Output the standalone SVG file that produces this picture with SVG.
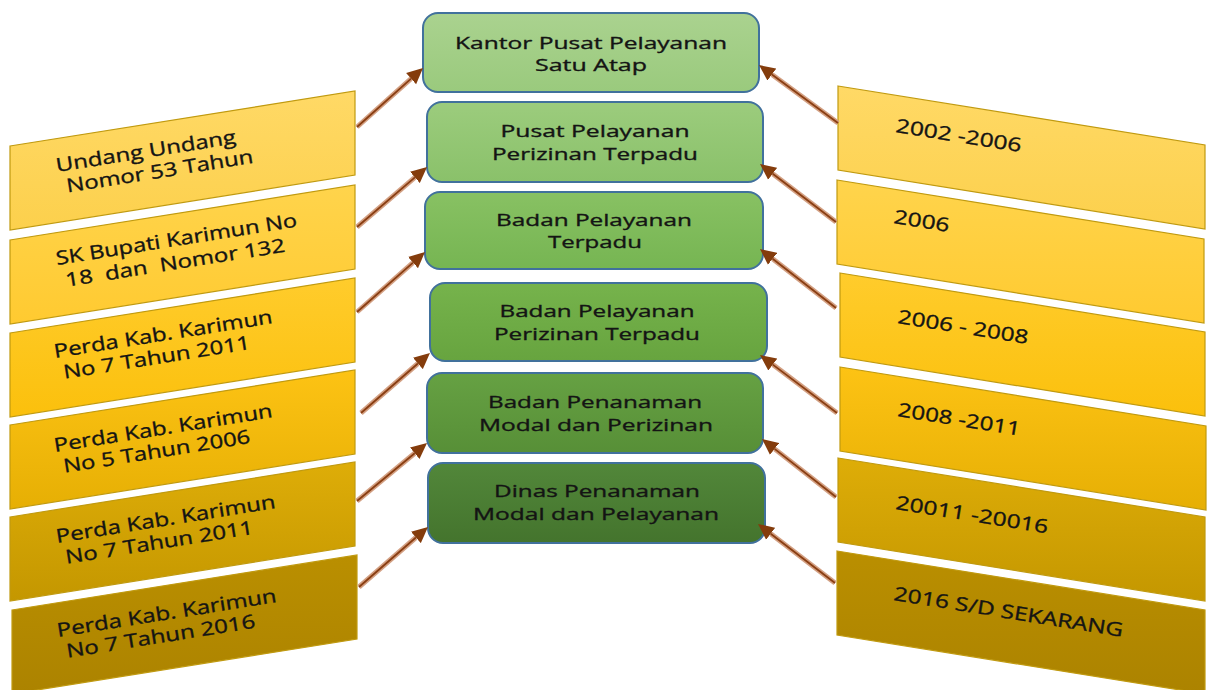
<svg xmlns="http://www.w3.org/2000/svg" width="1208" height="690" viewBox="0 0 1208 690">
<style>
.y{stroke:#C09A10;stroke-width:1.2}
.g{stroke:#41719C;stroke-width:2}
.t{font-family:"Open Sans","Liberation Sans",sans-serif;font-size:19px;fill:#141414;stroke:#141414;stroke-width:0.35}
.c{text-anchor:middle;font-size:17px}
.ao{fill:none;stroke:#D3A083;stroke-width:5}
.ai{fill:none;stroke:#8A3E12;stroke-width:1.8}
</style>
<defs>
<marker id="ah" markerUnits="userSpaceOnUse" markerWidth="17" markerHeight="16" viewBox="0 -8 17 16" refX="0" refY="0" orient="auto">
<path d="M0,-7.5 L16,0 L0,7.5 z" fill="#843C0C"/>
</marker>
<linearGradient id="y1" x1="0" y1="0" x2="0" y2="1"><stop offset="0" stop-color="#FFD966"/><stop offset="1" stop-color="#FCD04C"/></linearGradient>
<linearGradient id="y2" x1="0" y1="0" x2="0" y2="1"><stop offset="0" stop-color="#FFD44C"/><stop offset="1" stop-color="#FFCA30"/></linearGradient>
<linearGradient id="y3" x1="0" y1="0" x2="0" y2="1"><stop offset="0" stop-color="#FFCC2C"/><stop offset="1" stop-color="#FBC00C"/></linearGradient>
<linearGradient id="y4" x1="0" y1="0" x2="0" y2="1"><stop offset="0" stop-color="#FDC314"/><stop offset="1" stop-color="#E6AF04"/></linearGradient>
<linearGradient id="y5" x1="0" y1="0" x2="0" y2="1"><stop offset="0" stop-color="#DEAD08"/><stop offset="1" stop-color="#C49700"/></linearGradient>
<linearGradient id="y6" x1="0" y1="0" x2="0" y2="1"><stop offset="0" stop-color="#BA8F00"/><stop offset="1" stop-color="#AC8300"/></linearGradient>
<linearGradient id="g1" x1="0" y1="0" x2="0" y2="1"><stop offset="0" stop-color="#AAD28F"/><stop offset="1" stop-color="#9ACA7D"/></linearGradient>
<linearGradient id="g2" x1="0" y1="0" x2="0" y2="1"><stop offset="0" stop-color="#9CCC7D"/><stop offset="1" stop-color="#8AC16A"/></linearGradient>
<linearGradient id="g3" x1="0" y1="0" x2="0" y2="1"><stop offset="0" stop-color="#88C163"/><stop offset="1" stop-color="#76B552"/></linearGradient>
<linearGradient id="g4" x1="0" y1="0" x2="0" y2="1"><stop offset="0" stop-color="#76B34C"/><stop offset="1" stop-color="#67A43F"/></linearGradient>
<linearGradient id="g5" x1="0" y1="0" x2="0" y2="1"><stop offset="0" stop-color="#66A143"/><stop offset="1" stop-color="#578F37"/></linearGradient>
<linearGradient id="g6" x1="0" y1="0" x2="0" y2="1"><stop offset="0" stop-color="#52873A"/><stop offset="1" stop-color="#44742D"/></linearGradient>
</defs>
<rect width="1208" height="690" fill="#FFFFFF"/>

<!-- Left parallelograms -->
<g id="left1">
<polygon class="y" fill="url(#y1)" points="10,146 355,91 355,175 10,230"/>
<g transform="translate(57,172) rotate(-9.1)"><text class="t" x="0" y="0" textLength="182" lengthAdjust="spacingAndGlyphs">Undang Undang</text><text class="t" x="7" y="22" textLength="189" lengthAdjust="spacingAndGlyphs">Nomor 53 Tahun</text></g>
</g>
<g id="left2">
<polygon class="y" fill="url(#y2)" points="10,240 355,185 355,269 10,324"/>
<g transform="translate(57,265) rotate(-9.1)"><text class="t" x="0" y="0" textLength="244" lengthAdjust="spacingAndGlyphs">SK Bupati Karimun No</text><text class="t" x="6" y="23" textLength="222" lengthAdjust="spacingAndGlyphs" xml:space="preserve">18  dan  Nomor 132</text></g>
</g>
<g id="left3">
<polygon class="y" fill="url(#y3)" points="10,333 355,278 355,362 10,417"/>
<g transform="translate(55,358) rotate(-9.1)"><text class="t" x="0" y="0" textLength="221" lengthAdjust="spacingAndGlyphs">Perda Kab. Karimun</text><text class="t" x="6" y="22" textLength="189" lengthAdjust="spacingAndGlyphs">No 7 Tahun 2011</text></g>
</g>
<g id="left4">
<polygon class="y" fill="url(#y4)" points="10,425 355,370 355,454 10,509"/>
<g transform="translate(55,452) rotate(-9.1)"><text class="t" x="0" y="0" textLength="221" lengthAdjust="spacingAndGlyphs">Perda Kab. Karimun</text><text class="t" x="6" y="22" textLength="189" lengthAdjust="spacingAndGlyphs">No 5 Tahun 2006</text></g>
</g>
<g id="left5">
<polygon class="y" fill="url(#y5)" points="10,517 355,462 355,546 10,601"/>
<g transform="translate(57,543) rotate(-9.1)"><text class="t" x="0" y="0" textLength="222" lengthAdjust="spacingAndGlyphs">Perda Kab. Karimun</text><text class="t" x="6" y="22" textLength="190" lengthAdjust="spacingAndGlyphs">No 7 Tahun 2011</text></g>
</g>
<g id="left6">
<polygon class="y" fill="url(#y6)" points="12,610 357,555 357,639 12,694"/>
<g transform="translate(58,637) rotate(-9.1)"><text class="t" x="0" y="0" textLength="222" lengthAdjust="spacingAndGlyphs">Perda Kab. Karimun</text><text class="t" x="6" y="22" textLength="191" lengthAdjust="spacingAndGlyphs">No 7 Tahun 2016</text></g>
</g>

<!-- Right parallelograms -->
<g id="right1">
<polygon class="y" fill="url(#y1)" points="838,86 1205,145 1205,229 838,170"/>
<text class="t" transform="translate(895,132) rotate(9.1)" textLength="127" lengthAdjust="spacingAndGlyphs">2002 -2006</text>
</g>
<g id="right2">
<polygon class="y" fill="url(#y2)" points="837,180 1204,239 1204,323 837,264"/>
<text class="t" transform="translate(893,223) rotate(9.1)" textLength="56" lengthAdjust="spacingAndGlyphs">2006</text>
</g>
<g id="right3">
<polygon class="y" fill="url(#y3)" points="840,273 1205,332 1205,416 840,357"/>
<text class="t" transform="translate(897,323) rotate(9.1)" textLength="132" lengthAdjust="spacingAndGlyphs">2006 - 2008</text>
</g>
<g id="right4">
<polygon class="y" fill="url(#y4)" points="840,367 1206,426 1206,510 840,451"/>
<text class="t" transform="translate(897,416) rotate(9.1)" textLength="124" lengthAdjust="spacingAndGlyphs">2008 -2011</text>
</g>
<g id="right5">
<polygon class="y" fill="url(#y5)" points="838,458 1205,517 1205,601 838,542"/>
<text class="t" transform="translate(895,509) rotate(9.1)" textLength="154" lengthAdjust="spacingAndGlyphs">20011 -20016</text>
</g>
<g id="right6">
<polygon class="y" fill="url(#y6)" points="837,551 1205,610 1205,694 837,635"/>
<text class="t" transform="translate(893,600) rotate(9.1)" textLength="232" lengthAdjust="spacingAndGlyphs">2016 S/D SEKARANG</text>
</g>

<!-- Center boxes -->
<g id="center1">
<rect class="g" fill="url(#g1)" x="423" y="13" width="336" height="79" rx="15"/>
<text class="t c" x="591" y="48.5" textLength="272" lengthAdjust="spacingAndGlyphs">Kantor Pusat Pelayanan</text>
<text class="t c" x="591" y="71" textLength="112" lengthAdjust="spacingAndGlyphs">Satu Atap</text>
</g>
<g id="center2">
<rect class="g" fill="url(#g2)" x="427" y="102" width="336" height="80" rx="15"/>
<text class="t c" x="595" y="137" textLength="189" lengthAdjust="spacingAndGlyphs">Pusat Pelayanan</text>
<text class="t c" x="595" y="159.5" textLength="206" lengthAdjust="spacingAndGlyphs">Perizinan Terpadu</text>
</g>
<g id="center3">
<rect class="g" fill="url(#g3)" x="425" y="192" width="338" height="77" rx="15"/>
<text class="t c" x="594" y="225.5" textLength="196" lengthAdjust="spacingAndGlyphs">Badan Pelayanan</text>
<text class="t c" x="595" y="248" textLength="94" lengthAdjust="spacingAndGlyphs">Terpadu</text>
</g>
<g id="center4">
<rect class="g" fill="url(#g4)" x="430" y="283" width="337" height="78" rx="15"/>
<text class="t c" x="597" y="317" textLength="195" lengthAdjust="spacingAndGlyphs">Badan Pelayanan</text>
<text class="t c" x="597" y="339.5" textLength="206" lengthAdjust="spacingAndGlyphs">Perizinan Terpadu</text>
</g>
<g id="center5">
<rect class="g" fill="url(#g5)" x="427" y="373" width="336" height="80" rx="15"/>
<text class="t c" x="595" y="408" textLength="214" lengthAdjust="spacingAndGlyphs">Badan Penanaman</text>
<text class="t c" x="596" y="430.5" textLength="234" lengthAdjust="spacingAndGlyphs">Modal dan Perizinan</text>
</g>
<g id="center6">
<rect class="g" fill="url(#g6)" x="428" y="463" width="337" height="80" rx="15"/>
<text class="t c" x="597" y="497" textLength="206" lengthAdjust="spacingAndGlyphs">Dinas Penanaman</text>
<text class="t c" x="596" y="519.5" textLength="246" lengthAdjust="spacingAndGlyphs">Modal dan Pelayanan</text>
</g>

<!-- Connectors -->
<g id="connectors">
<path class="ao" marker-end="url(#ah)" d="M357,127 L411.1,78.7"/>
<path class="ai" d="M357,127 L411.1,78.7"/>
<path class="ao" marker-end="url(#ah)" d="M357,227 L414.9,177.4"/>
<path class="ai" d="M357,227 L414.9,177.4"/>
<path class="ao" marker-end="url(#ah)" d="M357,312 L413.0,262.6"/>
<path class="ai" d="M357,312 L413.0,262.6"/>
<path class="ao" marker-end="url(#ah)" d="M361,413 L417.9,363.5"/>
<path class="ai" d="M361,413 L417.9,363.5"/>
<path class="ao" marker-end="url(#ah)" d="M357,501 L414.7,453.2"/>
<path class="ai" d="M357,501 L414.7,453.2"/>
<path class="ao" marker-end="url(#ah)" d="M359,587 L415.9,537.5"/>
<path class="ai" d="M359,587 L415.9,537.5"/>

<path class="ao" marker-end="url(#ah)" d="M838,123 L771.9,74.5"/>
<path class="ai" d="M838,123 L771.9,74.5"/>
<path class="ao" marker-end="url(#ah)" d="M836,222 L772.7,173.7"/>
<path class="ai" d="M836,222 L772.7,173.7"/>
<path class="ao" marker-end="url(#ah)" d="M836,308 L772.6,258.8"/>
<path class="ai" d="M836,308 L772.6,258.8"/>
<path class="ao" marker-end="url(#ah)" d="M837,413 L772.8,364.6"/>
<path class="ai" d="M837,413 L772.8,364.6"/>
<path class="ao" marker-end="url(#ah)" d="M836,497 L774.6,448.9"/>
<path class="ai" d="M836,497 L774.6,448.9"/>
<path class="ao" marker-end="url(#ah)" d="M835,583 L770.7,533.7"/>
<path class="ai" d="M835,583 L770.7,533.7"/>
</g>
</svg>
